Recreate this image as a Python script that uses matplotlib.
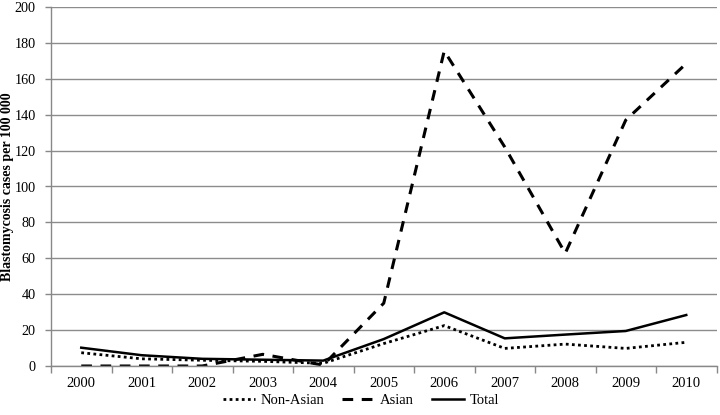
import matplotlib
matplotlib.use("Agg")
import matplotlib.pyplot as plt
import numpy as np

plt.rcParams["font.family"] = ["Liberation Serif", "DejaVu Serif"]

years = ["2000", "2001", "2002", "2003", "2004", "2005",
         "2006", "2007", "2008", "2009", "2010"]
non_asian = [7.4, 4.0, 3.2, 2.6, 1.5, 12.5, 22.5, 9.8, 12.2, 9.8, 13.2]
asian     = [0.0, 0.0, 0.0, 6.5, 0.5, 35.0, 175.5, 122.0, 62.8, 137.0, 168.5]
total     = [10.2, 6.0, 4.0, 3.5, 3.0, 15.0, 29.9, 15.4, 17.5, 19.5, 28.4]

x = np.arange(len(years))

fig = plt.figure(figsize=(7.2, 4.15), dpi=100)
ax = fig.add_axes([51 / 720, 1 - 366 / 415, (716.5 - 51) / 720, (366 - 7) / 415])

ax.plot(x, non_asian, color="black", linestyle=(0, (1, 1.2)), linewidth=2.0, label="Non-Asian")
ax.plot(x, asian, color="black", linestyle=(0, (3.5, 2.8)), linewidth=2.2, label="Asian")
ax.plot(x, total, color="black", linestyle="-", linewidth=1.8, label="Total")

ax.set_xlim(-0.5, len(years) - 0.5)
ax.set_ylim(0, 200)
ax.set_yticks(np.arange(0, 201, 20))
ax.set_xticks(x)
ax.set_xticklabels(years)
ax.set_xticks(np.arange(-0.5, len(years), 1), minor=True)
ax.tick_params(axis="x", which="major", length=0, pad=8, labelsize=10.5)
ax.tick_params(axis="x", which="minor", length=5, color="#888888", width=1)
ax.tick_params(axis="y", length=4, color="#888888", width=1, labelsize=10.2, pad=7)

ax.grid(axis="y", color="#8c8c8c", linewidth=1)
ax.set_axisbelow(True)
for side in ["top", "right"]:
    ax.spines[side].set_visible(False)
for side in ["left", "bottom"]:
    ax.spines[side].set_color("#888888")
    ax.spines[side].set_linewidth(1)

ax.set_ylabel("Blastomycosis cases per 100 000", fontsize=10, fontweight="bold",
              va="center")
ax.yaxis.set_label_coords((8 - 51) / 665.5, 0.5)

fig.legend(loc="center", bbox_to_anchor=(361 / 720, 1 - 400 / 415), ncol=3,
           frameon=False, fontsize=10.5, handlelength=2.2, columnspacing=1.2,
           handletextpad=0.4)

fig.savefig("out.png", dpi=100)
